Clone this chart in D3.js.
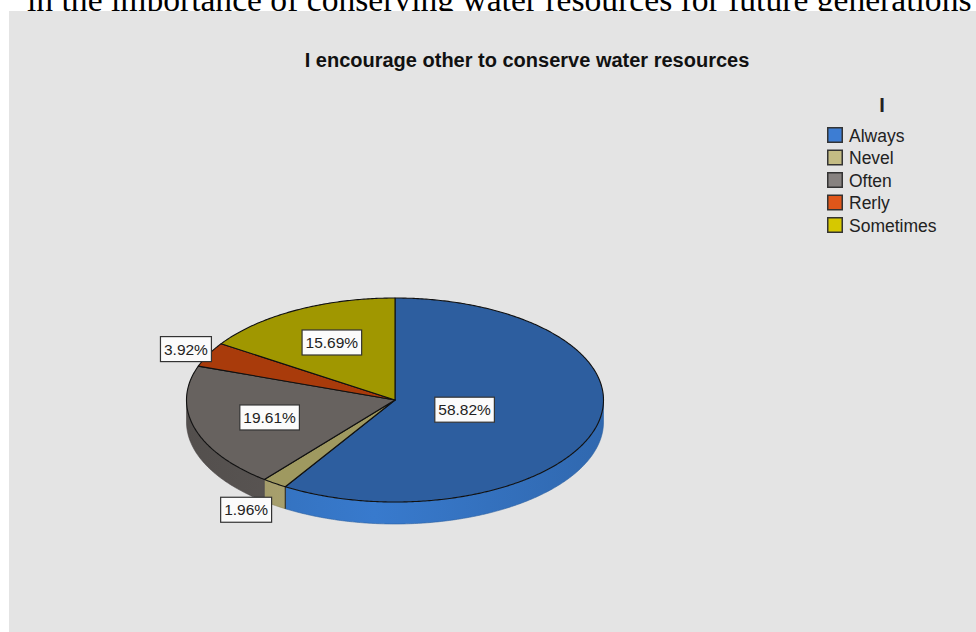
<!DOCTYPE html>
<html>
<head>
<meta charset="utf-8">
<script src="https://cdn.jsdelivr.net/npm/d3@7/dist/d3.min.js"></script>
<style>
  html, body { margin: 0; padding: 0; background: #ffffff; }
  svg { display: block; }
</style>
</head>
<body>
<svg id="chart" width="976" height="632"></svg>
<script>
// Survey answers and their shares (percent)
const categories = ["Always", "Nevel", "Often", "Rerly", "Sometimes"];
const shares = [58.82, 1.96, 19.61, 3.92, 15.69];
const labels = ["58.82%", "1.96%", "19.61%", "3.92%", "15.69%"];

const chartTitle = "I encourage other to conserve water resources";
const legendTitle = "I";
const captionAbove = "in the importance of conserving water resources for future generations";

// Fill colours: top face, side wall, legend swatch
const topColors = ["#2d5e9f", "#9f9960", "#67625f", "#a93b0b", "#a09700"];
const sideColors = ["#3676c6", "#aba36f", "#5b5654", "#8f3108", "#8a8200"];
const swatchColors = ["#3d7dd3", "#c4bc84", "#878280", "#e0561a", "#d6c800"];

const svg = d3.select("#chart");
const W = 976, H = 632;

// Caption line partly hidden behind the panel
const cap = svg.append("text")
  .attr("x", 27).attr("y", 11)
  .attr("font-family", "Liberation Serif, Times New Roman, serif")
  .attr("font-size", 28)
  .attr("fill", "#000")
  .text(captionAbove);
const capW = cap.node().getComputedTextLength();
cap.attr("font-size", 28 * 945 / capW);

// Grey chart panel
svg.append("rect")
  .attr("x", 9).attr("y", 11)
  .attr("width", W - 9).attr("height", H - 11)
  .attr("fill", "#e4e4e4");

// Title
svg.append("text")
  .attr("x", 527).attr("y", 67)
  .attr("text-anchor", "middle")
  .attr("font-family", "Liberation Sans, Arial, sans-serif")
  .attr("font-weight", "bold")
  .attr("font-size", 20)
  .attr("fill", "#111")
  .text(chartTitle);

// ---- 3D pie ----
const cx = 395, cy = 400, rx = 208.5, ry = 102, depth = 22;

const pie = d3.pie().sort(null).value(d => d).startAngle(0).endAngle(2 * Math.PI);
const arcs = pie(shares);

// projection of an angle (clockwise from 12 o'clock) on the tilted disc
const px = (a, k = 1) => cx + rx * k * Math.sin(a);
const py = (a, k = 1) => cy - ry * k * Math.cos(a);

function arcPoints(a0, a1, dy = 0) {
  const n = Math.max(2, Math.ceil((a1 - a0) / 0.01));
  return d3.range(n + 1).map(i => {
    const a = a0 + (a1 - a0) * i / n;
    return [px(a), py(a) + dy];
  });
}
const line = d3.line();

const gPie = svg.append("g");

// Side walls only on the near half of the disc (angles between pi/2 and 3pi/2)
arcs.forEach((d, i) => {
  const a0 = Math.max(d.startAngle, Math.PI / 2);
  const a1 = Math.min(d.endAngle, 3 * Math.PI / 2);
  if (a1 <= a0) return;
  const topEdge = arcPoints(a0, a1);
  const bottomEdge = arcPoints(a0, a1, depth).reverse();
  const grad = svg.append("defs").append("linearGradient")
    .attr("id", "side" + i)
    .attr("gradientUnits", "userSpaceOnUse")
    .attr("x1", cx - rx).attr("x2", cx + rx).attr("y1", 0).attr("y2", 0);
  const base = d3.color(sideColors[i]);
  grad.append("stop").attr("offset", 0).attr("stop-color", base.darker(0.25));
  grad.append("stop").attr("offset", 0.45).attr("stop-color", base.brighter(0.1));
  grad.append("stop").attr("offset", 1).attr("stop-color", base.darker(0.35));
  gPie.append("path")
    .attr("d", line(topEdge.concat(bottomEdge)) + "Z")
    .attr("fill", `url(#side${i})`)
    .attr("stroke", base.darker(0.6))
    .attr("stroke-width", 0.6);
});

// Small visible wall at the Nevel / Always joint
(function () {
  const d = arcs[1];
  const a = d.startAngle;
  const pts = [[px(a), py(a)], [px(a), py(a) + depth]];
  gPie.append("path").attr("d", line(pts)).attr("stroke", "#222").attr("stroke-width", 1);
})();

// Top faces
arcs.forEach((d, i) => {
  const pts = [[cx, cy]].concat(arcPoints(d.startAngle, d.endAngle));
  gPie.append("path")
    .attr("d", line(pts) + "Z")
    .attr("fill", topColors[i])
    .attr("stroke", "#111")
    .attr("stroke-width", 1.1)
    .attr("stroke-linejoin", "round");
});

// Value labels: sector centroid for large slices, just outside for thin ones
const gLab = svg.append("g")
  .attr("font-family", "Liberation Sans, Arial, sans-serif")
  .attr("font-size", 15.5)
  .attr("fill", "#222");

arcs.forEach((d, i) => {
  const mid = (d.startAngle + d.endAngle) / 2;
  const half = (d.endAngle - d.startAngle) / 2;
  let x, y;
  if (shares[i] >= 5) {
    const k = 2 * Math.sin(half) / (3 * half);
    x = px(mid, k); y = py(mid, k);
  } else {
    const k = 1.12;
    x = px(mid, k); y = py(mid, k);
    if (Math.cos(mid) < 0) { x -= 14; y += depth * 0.75; }
  }
  const g = gLab.append("g");
  const t = g.append("text")
    .attr("x", x).attr("y", y + 5.5)
    .attr("text-anchor", "middle")
    .text(labels[i]);
  const bw = t.node().getComputedTextLength() + 7;
  g.insert("rect", "text")
    .attr("x", x - bw / 2).attr("y", y - 12.5)
    .attr("width", bw).attr("height", 25)
    .attr("fill", "#fbfbfb")
    .attr("stroke", "#333")
    .attr("stroke-width", 1.2);
});

// ---- Legend ----
const legX = 827, legY0 = 127, legStep = 22.5, sw = 16;
svg.append("text")
  .attr("x", 882).attr("y", 112)
  .attr("text-anchor", "middle")
  .attr("font-family", "Liberation Sans, Arial, sans-serif")
  .attr("font-weight", "bold")
  .attr("font-size", 20)
  .attr("fill", "#222")
  .text(legendTitle);

const legY = d3.scaleLinear().domain([0, 1]).range([legY0, legY0 + legStep]);
const items = svg.append("g").selectAll("g").data(categories).join("g")
  .attr("transform", (d, i) => `translate(${legX},${legY(i)})`);
items.append("rect")
  .attr("x", 0.75).attr("y", 0.75)
  .attr("width", sw - 1.5).attr("height", sw - 1.5)
  .attr("fill", (d, i) => swatchColors[i])
  .attr("stroke", "#333")
  .attr("stroke-width", 1.5);
items.append("text")
  .attr("x", 22).attr("y", 14.5)
  .attr("font-family", "Liberation Sans, Arial, sans-serif")
  .attr("font-size", 17.5)
  .attr("fill", "#222")
  .text(d => d);
</script>
</body>
</html>
